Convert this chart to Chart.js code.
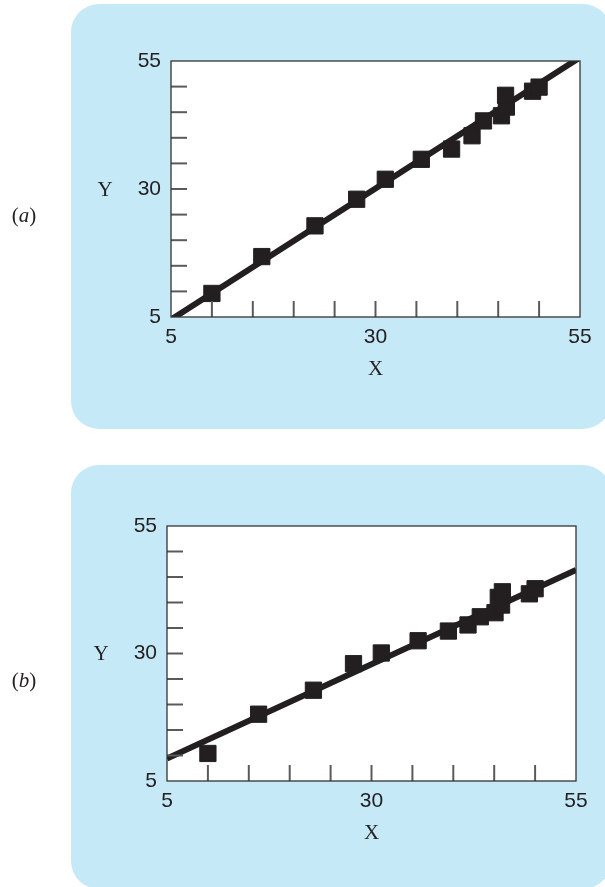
<!DOCTYPE html>
<html>
<head>
<meta charset="utf-8">
<script src="https://cdn.jsdelivr.net/npm/chart.js@4"></script>
<style>
  body { margin: 0; background: #fff; }
  #page { position: relative; width: 605px; height: 887px; overflow: hidden; }
  .panel { position: absolute; left: 71px; width: 540px; background: #c6e9f8; border-radius: 28px; }
  .box { position: absolute; left: 0; width: 605px; }
  .lbl { position: absolute; font-family: "Liberation Serif", serif; font-size: 21px; line-height: 1;
         color: #231f20; transform: translate(-50%, -50%); white-space: nowrap; }
</style>
</head>
<body>
<div id="page">
  <div class="panel" style="top:4px; height:425px;"></div>
  <div class="panel" style="top:465px; height:424px;"></div>

  <div class="box" style="top:0; height:440px;"><canvas id="chartA"></canvas></div>
  <div class="box" style="top:445px; height:442px;"><canvas id="chartB"></canvas></div>

  <div class="lbl" style="left:24px; top:215px;">(<i>a</i>)</div>
  <div class="lbl" style="left:105px; top:189px;">Y</div>
  <div class="lbl" style="left:24px; top:680px;">(<i>b</i>)</div>
  <div class="lbl" style="left:101px; top:653px;">Y</div>
</div>

<script>
// Data
const xA = [10, 16.1, 22.6, 27.7, 31.2, 35.6, 39.3, 41.8, 43.2, 45.4, 46.0, 45.9, 49.2, 50.0];
const yA = [9.6, 16.8, 22.8, 28.0, 31.9, 35.8, 37.8, 40.4, 43.3, 44.3, 46.0, 48.3, 49.1, 49.9];
const fitAX = [5, 55];
const fitAY = [4.5, 55.7];

const xB = [10, 16.2, 22.9, 27.8, 31.2, 35.7, 39.4, 41.8, 43.3, 45.1, 45.9, 45.5, 46.0, 49.3, 50.0];
const yB = [10.4, 18.1, 22.8, 28.0, 30.1, 32.5, 34.4, 35.6, 37.2, 38.0, 39.5, 41.0, 42.1, 41.7, 42.7];
const fitBX = [5, 55];
const fitBY = [9.4, 46.4];

const axisMin = 5;
const axisMax = 55;
const tickMarks = [10, 15, 20, 25, 30, 35, 40, 45, 50];
const tickLabels = [5, 30, 55];

const ink = "#231f20";

function toPoints(xs, ys) {
  return xs.map((x, i) => ({ x: x, y: ys[i] }));
}

// white plot area, short inward ticks, frame
const innerTicks = {
  id: "innerTicks",
  beforeDatasetsDraw(chart) {
    let area = chart.chartArea;
    chart.ctx.save();
    chart.ctx.fillStyle = "#fff";
    chart.ctx.fillRect(area.left, area.top, area.right - area.left, area.bottom - area.top);
    chart.ctx.restore();
  },
  afterDraw(chart) {
    let ctx = chart.ctx;
    let area = chart.chartArea;
    let xs = chart.scales.x;
    let ys = chart.scales.y;
    ctx.save();
    ctx.strokeStyle = "#5a5a5a";
    ctx.lineWidth = 2;
    tickMarks.forEach(v => {
      let px = xs.getPixelForValue(v);
      ctx.beginPath();
      ctx.moveTo(px, area.bottom);
      ctx.lineTo(px, area.bottom - 16);
      ctx.stroke();
      let py = ys.getPixelForValue(v);
      ctx.beginPath();
      ctx.moveTo(area.left, py);
      ctx.lineTo(area.left + 16, py);
      ctx.stroke();
    });
    ctx.strokeStyle = "#333";
    ctx.lineWidth = 1.3;
    ctx.strokeRect(area.left, area.top, area.right - area.left, area.bottom - area.top);
    ctx.restore();
  }
};

function makeChart(id, xs, ys, fx, fy, pad) {
  let tickFont = { family: "'Liberation Sans', Arial, sans-serif", size: 21 };
  return new Chart(document.getElementById(id), {
    type: "scatter",
    data: {
      datasets: [
        {
          data: toPoints(xs, ys),
          pointStyle: "rect",
          pointRadius: 11.5,
          backgroundColor: ink,
          borderColor: ink,
          borderWidth: 1
        },
        {
          type: "line",
          data: toPoints(fx, fy),
          borderColor: ink,
          borderWidth: 6,
          pointRadius: 0,
          clip: 0
        }
      ]
    },
    options: {
      responsive: true,
      maintainAspectRatio: false,
      animation: false,
      events: [],
      layout: { padding: pad },
      plugins: { legend: { display: false }, tooltip: { enabled: false } },
      scales: {
        x: {
          type: "linear",
          min: axisMin,
          max: axisMax,
          grid: { display: false, drawTicks: false },
          border: { display: false },
          ticks: {
            stepSize: 5,
            padding: 8,
            color: ink,
            font: tickFont,
            maxRotation: 0,
            autoSkip: false,
            callback: v => tickLabels.includes(v) ? v : ""
          },
          title: {
            display: true,
            text: "X",
            color: ink,
            font: { family: "'Liberation Serif', serif", size: 21 },
            padding: { top: 0, bottom: 5 }
          },
          afterFit: s => { s.height = 70; }
        },
        y: {
          type: "linear",
          min: axisMin,
          max: axisMax,
          grid: { display: false, drawTicks: false },
          border: { display: false },
          ticks: {
            stepSize: 5,
            padding: 10,
            color: ink,
            font: tickFont,
            autoSkip: false,
            callback: v => tickLabels.includes(v) ? v : ""
          },
          afterFit: s => { s.width = 40; }
        }
      }
    },
    plugins: [innerTicks]
  });
}

makeChart("chartA", xA, yA, fitAX, fitAY, { left: 131, right: 25, top: 61, bottom: 53 });
makeChart("chartB", xB, yB, fitBX, fitBY, { left: 127, right: 29, top: 81, bottom: 36 });
</script>
</body>
</html>
